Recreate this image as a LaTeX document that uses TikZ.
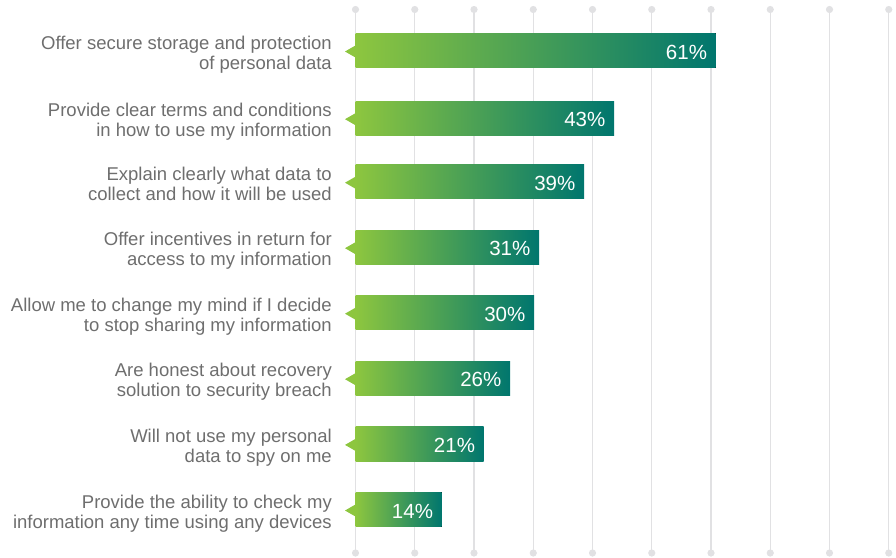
\documentclass[tikz,border=0pt]{standalone}
\usepackage{fontspec}
\setmainfont{Liberation Sans}
\definecolor{barL}{RGB}{141,198,63}
\definecolor{barR}{RGB}{0,118,110}
\definecolor{gridc}{RGB}{225,225,227}
\definecolor{labc}{RGB}{110,110,110}
\begin{document}
\begin{tikzpicture}[x=1pt,y=-1pt,
  gridline/.style={draw=gridc,line width=1.3pt},
  griddot/.style={fill=gridc},
  barfill/.style={left color=barL,right color=barR},
  notchfill/.style={fill=barL},
  pct/.style={text=white,font=\fontsize{20.5}{20.5}\selectfont,anchor=base east,inner sep=0pt},
  labtext/.style={text=labc,font=\fontsize{18.5}{20}\selectfont,anchor=base east,inner sep=0pt}]
\useasboundingbox (0,0) rectangle (896,557);
% grid
\foreach \i in {0,...,9}{
  \coordinate (gt\i) at ({355.5+59.25*\i},9.5);
  \coordinate (gb\i) at ({355.5+59.25*\i},553);
  \draw[gridline] (gt\i) -- (gb\i);
  \fill[griddot] (gt\i) circle (3.6);
  \fill[griddot] (gb\i) circle (3.6);
}
% bars
\foreach \k/\t/\e/\p/\la/\lb in {
  1/33.3/715.7/61/{Offer secure storage and protection}/{of personal data},
  2/101/614/43/{Provide clear terms and conditions}/{in how to use my information},
  3/164.5/584/39/{Explain clearly what data to}/{collect and how it will be used},
  4/230/539/31/{Offer incentives in return for}/{access to my information},
  5/295.5/534/30/{Allow me to change my mind if I decide}/{to stop sharing my information},
  6/361/510/26/{Are honest about recovery}/{solution to security breach},
  7/426.7/483.7/21/{Will not use my personal}/{data to spy on me},
  8/492.3/441.7/14/{Provide the ability to check my}/{information any time using any devices}}{
  \pgfmathsetmacro{\b}{\t+34.4}
  \pgfmathsetmacro{\c}{\t+17.2}
  \coordinate (bs\k) at (355.5,\t);
  \coordinate (be\k) at (\e,\b);
  \coordinate (nt\k) at (345,\c+1);
  \coordinate (nu\k) at (355.8,\c-5.2);
  \coordinate (nd\k) at (355.8,\c+7.2);
  \fill[barfill] (bs\k) rectangle (be\k);
  \fill[notchfill] (nu\k) -- (nt\k) -- (nd\k) -- cycle;
  \node[pct] (p\k) at (\e-8.5,\c+8.5) {\p\%};
  \node[labtext] (la\k) at (332,\c-1.5) {\la};
  \node[labtext] (lb\k) at (332,\c+18.5) {\lb};
}
\end{tikzpicture}
\end{document}
